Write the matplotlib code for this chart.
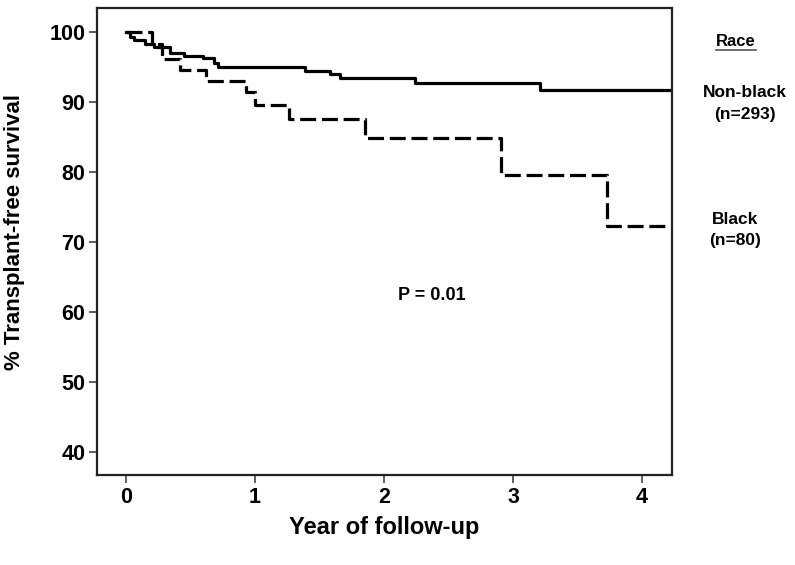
import numpy as np
import matplotlib.pyplot as plt
from matplotlib.lines import Line2D

plt.rcParams['font.family'] = ['Liberation Sans', 'DejaVu Sans']
plt.rcParams['font.weight'] = 'bold'

# Kaplan-Meier step data (years, % survival)
nonblack_time = np.array([0, 0.03, 0.06, 0.15, 0.22, 0.34, 0.45, 0.6, 0.68, 0.71,
                          1.39, 1.58, 1.66, 2.24, 3.21, 4.23])
nonblack_surv = np.array([100, 99.3, 98.8, 98.3, 97.8, 97.0, 96.6, 96.3, 95.6, 95.0,
                          94.4, 94.0, 93.4, 92.7, 91.7, 91.7])

black_time = np.array([0, 0.2, 0.28, 0.42, 0.62, 0.93, 1.0, 1.26, 1.85, 2.91, 3.73, 4.23])
black_surv = np.array([100, 98.3, 96.1, 94.6, 93.0, 91.4, 89.6, 87.6, 84.9, 79.6, 72.3, 72.3])

xticks = [0, 1, 2, 3, 4]
yticks = [40, 50, 60, 70, 80, 90, 100]

fig = plt.figure(figsize=(7.95, 5.65), dpi=100)
ax = fig.add_axes([0.122, 0.159, 0.723, 0.827])

ax.step(nonblack_time, nonblack_surv, where='post', color='black', lw=2.3)
ax.step(black_time, black_surv, where='post', color='black', lw=2.3,
        linestyle=(0, (5, 1.8)))

ax.set_xlim(-0.225, 4.23)
ax.set_ylim(36.7, 103.4)
ax.set_xticks(xticks)
ax.set_yticks(yticks)
ax.tick_params(direction='out', length=6, width=1.2, color='#444444',
               labelsize=15.5, pad=2.5)
for s in ax.spines.values():
    s.set_linewidth(1.6)
    s.set_color('#222222')

ax.set_xlabel('Year of follow-up', fontsize=17, fontweight='bold', va='center')
ax.xaxis.set_label_coords(0.5, -0.113)
ax.set_ylabel('% Transplant-free survival', fontsize=16, fontweight='bold', va='center')
ax.yaxis.set_label_coords(-0.144, 0.52)

fig.text(432 / 795, 1 - 295 / 565, 'P = 0.01', fontsize=13, fontweight='bold',
         ha='center', va='center')

# right-hand labels
fig.text(736 / 795, 1 - 41 / 565, 'Race', fontsize=12, fontweight='bold', ha='center', va='center')
fig.add_artist(Line2D([716 / 795, 756 / 795], [1 - 50 / 565, 1 - 50 / 565],
                      color='#555555', lw=1.2))
fig.text(745 / 795, 1 - 103.5 / 565, 'Non-black\n(n=293)', fontsize=12.5, fontweight='bold',
         ha='center', va='center', linespacing=1.55)
fig.text(735 / 795, 1 - 230 / 565, 'Black\n(n=80)', fontsize=12.5, fontweight='bold',
         ha='center', va='center', linespacing=1.55)

fig.savefig('out.png', dpi=100)
